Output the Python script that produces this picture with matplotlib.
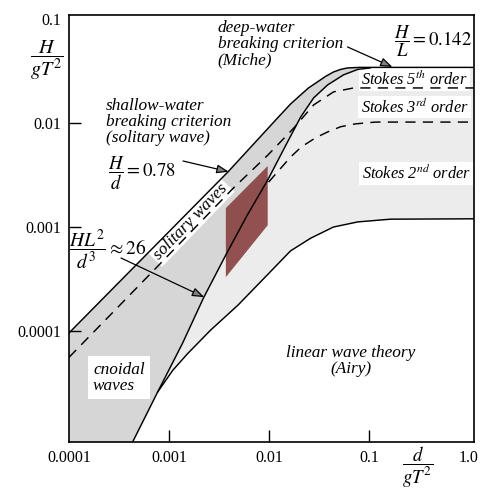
# Le Mehaute diagram - ranges of validity of wave theories
import matplotlib.pyplot as plt

plt.rcParams['font.family'] = ['Liberation Serif', 'DejaVu Serif']
plt.rcParams['mathtext.fontset'] = 'stix'

# ------------------------------------------------------------
# data (d/gT^2, H/gT^2)
# ------------------------------------------------------------

# breaking limit (H/d = 0.78 -> H/L = 0.142)
brk_x = [1.0e-4, 3.9e-3, 0.0122, 0.0164, 0.0207, 0.0248, 0.0305, 0.0367, 0.0441, 0.052, 0.061, 0.082, 1.12]
brk_y = [9.6e-5, 3.4e-3, 0.0112, 0.0152, 0.0186, 0.0217, 0.0248, 0.028, 0.0309, 0.0327, 0.0338, 0.0342, 0.0342]

# Ursell limit HL^2/d^3 = 26
urs_x = [4.3e-4, 7.7e-4, 1.37e-3, 2.22e-3, 3.7e-3, 6.0e-3, 9.7e-3, 0.0147, 0.0207, 0.0279, 0.0385, 0.0556, 0.077, 0.103]
urs_y = [8.5e-6, 2.6e-5, 7.7e-5, 2.1e-4, 5.4e-4, 1.28e-3, 2.83e-3, 6.1e-3, 0.0114, 0.0174, 0.0232, 0.029, 0.0327, 0.0338]

# limit of linear theory
low_x = [7.7e-4, 1.09e-3, 1.54e-3, 2.6e-3, 4.9e-3, 9.7e-3, 0.0164, 0.026, 0.044, 0.077, 0.164, 1.12]
low_y = [2.6e-5, 4.2e-5, 6.1e-5, 1.02e-4, 1.78e-4, 3.5e-4, 5.9e-4, 7.8e-4, 1.0e-3, 1.12e-3, 1.19e-3, 1.2e-3]

# Stokes 5th / 3rd order boundaries
dsh1_x = [1.0e-4, 6.6e-4, 4.4e-3, 9.7e-3, 0.0176, 0.0279, 0.0442, 0.07, 0.116, 1.12]
dsh1_y = [5.6e-5, 3.6e-4, 2.37e-3, 4.9e-3, 8.9e-3, 0.0149, 0.0199, 0.0217, 0.0217, 0.0217]

dsh2_x = [9.9e-3, 0.0122, 0.0164, 0.0211, 0.0292, 0.0385, 0.052, 0.073, 0.116, 1.12]
dsh2_y = [2.7e-3, 3.4e-3, 4.7e-3, 5.9e-3, 7.2e-3, 8.2e-3, 9.2e-3, 9.8e-3, 0.0102, 0.0102]

# experiment range (brown parallelogram)
box_x = [3.7e-3, 9.7e-3, 9.7e-3, 3.7e-3]
box_y = [1.52e-3, 3.86e-3, 1.04e-3, 3.3e-4]

xticks = [1e-4, 1e-3, 1e-2, 1e-1, 1.0]
xlabels = ['0.0001', '0.001', '0.01', '0.1', '1.0']
yticks = [1e-4, 1e-3, 1e-2, 1e-1]
ylabels = ['0.0001', '0.001', '0.01', '0.1']

XMIN, XMAX = 1e-4, 1.12
YMIN, YMAX = 8.6e-6, 0.109

# ------------------------------------------------------------
# figure
# ------------------------------------------------------------

fig = plt.figure(figsize=(4.84, 4.90), dpi=100)
ax = fig.add_axes([69 / 484, 1 - 442 / 490, 405 / 484, 427 / 490])
ax.set_xscale('log')
ax.set_yscale('log')
ax.set_xlim(XMIN, XMAX)
ax.set_ylim(YMIN, YMAX)

# cnoidal region (darker gray)
top = [(x, y) for x, y in zip(brk_x, brk_y) if x < urs_x[-1]]
cx = [p[0] for p in top] + urs_x[::-1] + [XMIN]
cy = [p[1] for p in top] + urs_y[::-1] + [YMIN]
ax.fill(cx, cy, color='#d6d6d6', lw=0, zorder=1)

# Stokes region (light gray)
rest = [(x, y) for x, y in zip(brk_x, brk_y) if x > urs_x[-1]]
sx = urs_x[1:] + [p[0] for p in rest] + low_x[::-1]
sy = urs_y[1:] + [p[1] for p in rest] + low_y[::-1]
ax.fill(sx, sy, color='#ececec', lw=0, zorder=1)

ax.fill(box_x, box_y, color='#8a4343', alpha=0.92, lw=0, zorder=2.5)

# curves
ax.plot(brk_x, brk_y, color='black', lw=1.05, zorder=3)
ax.plot(urs_x, urs_y, color='black', lw=1.05, zorder=3)
ax.plot(low_x, low_y, color='black', lw=1.05, zorder=3)
ax.plot(dsh1_x, dsh1_y, color='black', lw=1.05, ls=(0, (7, 5)), zorder=3)
ax.plot(dsh2_x, dsh2_y, color='black', lw=1.05, ls=(0, (7, 5)), zorder=3)

# ------------------------------------------------------------
# ticks
# ------------------------------------------------------------

ax.set_xticks(xticks)
ax.set_xticklabels(xlabels)
ax.set_yticks(yticks)
ax.set_yticklabels(ylabels)
ax.minorticks_off()
ax.tick_params(direction='in', length=8.5, width=1, labelsize=11.5)
ax.tick_params(axis='x', pad=6)
ax.tick_params(axis='y', pad=5.5)
xt = ax.xaxis.get_major_ticks()
xt[0].tick1line.set_visible(False)
xt[-1].tick1line.set_visible(False)
ax.yaxis.get_major_ticks()[-1].tick1line.set_visible(False)
for s in ax.spines.values():
    s.set_linewidth(1.2)

fig.text(47 / 484, 1 - 60 / 490, r'$\dfrac{H}{gT^2}$', fontsize=14.5, ha='center', va='center')
fig.text(418 / 484, 1 - 467 / 490, r'$\dfrac{d}{gT^2}$', fontsize=13.5, ha='center', va='center')

# ------------------------------------------------------------
# labels
# ------------------------------------------------------------

it = dict(fontstyle='italic', fontsize=12.4)
st = dict(fontstyle='italic', fontsize=11.8)
wbox = dict(boxstyle='square,pad=0.15', fc='white', ec='none')

ax.text(3.07e-3, 0.0569, 'deep-water\nbreaking criterion\n(Miche)',
        ha='left', va='center', linespacing=1.0, zorder=2, **it)
ax.text(2.34e-4, 0.0102, 'shallow-water\nbreaking criterion\n(solitary wave)',
        ha='left', va='center', linespacing=1.0, zorder=2, **it)
ax.text(2.45e-4, 3.3e-3, r'$\dfrac{H}{d}=0.78$', fontsize=13.5, ha='left', va='center')
ax.text(0.176, 0.0614, r'$\dfrac{H}{L}=0.142$', fontsize=13.5, ha='left', va='center')
ax.text(1.0e-4, 6.0e-4, r'$\dfrac{HL^2}{d^3}\approx 26$', fontsize=14, ha='left', va='center')

ax.text(1.65e-3, 1.12e-3, 'solitary waves', rotation=46, ha='center', va='center',
        rotation_mode='anchor', bbox=wbox, zorder=2, **it)
ax.text(0.284, 0.0262, r'Stokes 5$^{th}$ order', ha='center', va='center', bbox=wbox, zorder=2, **st)
ax.text(0.284, 0.01425, r'Stokes 3$^{rd}$ order', ha='center', va='center', bbox=wbox, zorder=2, **st)
ax.text(0.297, 3.3e-3, r'Stokes 2$^{nd}$ order', ha='center', va='center', bbox=wbox, zorder=2, **st)
ax.text(1.74e-4, 3.57e-5, 'cnoidal\nwaves', ha='left', va='center', linespacing=1.0,
        bbox=dict(boxstyle='square,pad=0.3', fc='white', ec='none'), zorder=2, **it)
ax.text(0.0652, 5.15e-5, 'linear wave theory\n(Airy)', ha='center', va='center',
        linespacing=1.0, zorder=2, **it)

# arrows
arr = dict(arrowstyle='-|>,head_length=0.6,head_width=0.22', fc='#7f7f7f', ec='black',
           lw=0.9, shrinkA=0, shrinkB=0, mutation_scale=12)
ax.annotate('', xy=(3.95e-3, 3.4e-3), xytext=(1.38e-3, 4.31e-3), arrowprops=arr, zorder=4)
ax.annotate('', xy=(0.1715, 0.0345), xytext=(0.0608, 0.0538), arrowprops=arr, zorder=4)
ax.annotate('', xy=(2.25e-3, 2.12e-4), xytext=(3.31e-4, 5.04e-4), arrowprops=arr, zorder=4)

fig.savefig('out.png', dpi=100)
